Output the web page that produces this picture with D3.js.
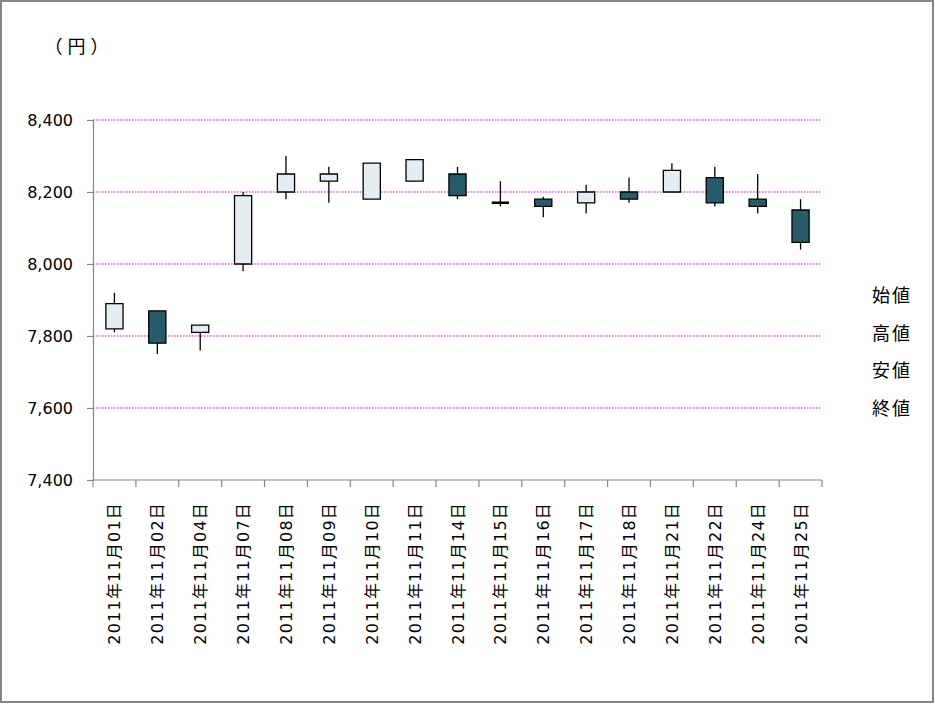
<!DOCTYPE html>
<html>
<head>
<meta charset="utf-8">
<script src="https://cdn.jsdelivr.net/npm/d3@7"></script>
<style>
  html, body { margin: 0; padding: 0; background: #fff; }
  svg { display: block; }
  text { font-family: "DejaVu Sans", "Noto Sans CJK JP", sans-serif; fill: #000; }
</style>
</head>
<body>
<svg id="chart" width="935" height="704"></svg>
<script>
const dates = ["2011年11月01日","2011年11月02日","2011年11月04日","2011年11月07日","2011年11月08日","2011年11月09日","2011年11月10日","2011年11月11日","2011年11月14日","2011年11月15日","2011年11月16日","2011年11月17日","2011年11月18日","2011年11月21日","2011年11月22日","2011年11月24日","2011年11月25日"];
const openValues  = [7820, 7870, 7810, 8000, 8200, 8230, 8180, 8230, 8250, 8170, 8180, 8170, 8200, 8200, 8240, 8180, 8150];
const highValues  = [7920, 7870, 7830, 8200, 8300, 8270, 8280, 8290, 8270, 8230, 8187, 8220, 8240, 8280, 8270, 8250, 8180];
const lowValues   = [7810, 7750, 7760, 7980, 8180, 8170, 8180, 8230, 8180, 8160, 8130, 8140, 8170, 8200, 8160, 8140, 8040];
const closeValues = [7890, 7780, 7830, 8190, 8250, 8250, 8280, 8290, 8190, 8170, 8160, 8200, 8180, 8260, 8170, 8160, 8060];
const yTicks = [7400, 7600, 7800, 8000, 8200, 8400];
const legendLabels = ["始値", "高値", "安値", "終値"];
const unitLabel = "（円）";

const svg = d3.select("#chart");
const plotLeft = 93, plotRight = 822, plotTop = 120, plotBottom = 480;

// outer border
svg.append("rect").attr("x", 1).attr("y", 1).attr("width", 932).attr("height", 701)
  .attr("fill", "#fff").attr("stroke", "#868686").attr("stroke-width", 2);

const x = d3.scaleBand().domain(dates).range([plotLeft, plotRight]).padding(0);
const y = d3.scaleLinear().domain([7400, 8400]).range([plotBottom, plotTop]);

// gridlines
svg.append("g").selectAll("line").data(yTicks.filter(t => t > 7400)).join("line")
  .attr("x1", plotLeft).attr("x2", plotRight)
  .attr("y1", d => y(d)).attr("y2", d => y(d))
  .attr("stroke", "#EE00EE").attr("stroke-width", 1.1).attr("stroke-dasharray", "1.5,1.5");

// y axis
const yAxis = d3.axisLeft(y).tickValues(yTicks).tickSize(6).tickPadding(14)
  .tickFormat(d3.format(","));
const gy = svg.append("g").attr("transform", `translate(${plotLeft},0)`).call(yAxis);
gy.select(".domain").attr("stroke", "#868686").attr("stroke-width", 1.2);
gy.selectAll(".tick line").attr("stroke", "#868686").attr("stroke-width", 1.2);
gy.selectAll(".tick text").attr("font-size", 16).attr("fill", "#000")
  .attr("font-family", "DejaVu Sans, sans-serif");

// x axis line & ticks at band boundaries
const gx = svg.append("g");
gx.append("line").attr("x1", plotLeft).attr("x2", plotRight).attr("y1", plotBottom).attr("y2", plotBottom)
  .attr("stroke", "#868686").attr("stroke-width", 1.2);
const boundaries = dates.map(d => x(d)).concat([x(dates[dates.length - 1]) + x.bandwidth()]);
gx.selectAll("line.tk").data(boundaries).join("line").attr("class", "tk")
  .attr("x1", d => d).attr("x2", d => d).attr("y1", plotBottom).attr("y2", plotBottom + 7)
  .attr("stroke", "#868686").attr("stroke-width", 1.2);
gx.selectAll("text").data(dates).join("text")
  .attr("transform", d => `translate(${x(d) + x.bandwidth() / 2 + 6},${plotBottom + 22}) rotate(-90)`)
  .attr("text-anchor", "end")
  .attr("font-size", 16)
  .attr("letter-spacing", 1.2)
  .text(d => d);

// candles
const cw = x.bandwidth() * 0.4;
const candles = svg.append("g").selectAll("g").data(dates).join("g");
candles.append("line")
  .attr("x1", (d) => x(d) + x.bandwidth() / 2).attr("x2", (d) => x(d) + x.bandwidth() / 2)
  .attr("y1", (d, i) => y(highValues[i])).attr("y2", (d, i) => y(lowValues[i]))
  .attr("stroke", "#000").attr("stroke-width", 1.3);
candles.append("path")
  .attr("d", (d, i) => {
    const x0 = x(d) + (x.bandwidth() - cw) / 2;
    const y1 = y(Math.max(openValues[i], closeValues[i]));
    const y2 = y(Math.min(openValues[i], closeValues[i]));
    return `M${x0},${y1}H${x0 + cw}V${y2}H${x0}Z`;
  })
  .attr("fill", (d, i) => closeValues[i] >= openValues[i] ? "#E3EDF2" : "#275B6A")
  .attr("stroke", "#000")
  .attr("stroke-width", (d, i) => closeValues[i] === openValues[i] ? 2.4 : 1.3);

// unit label
svg.append("text").attr("x", 79).attr("y", 53).attr("text-anchor", "middle")
  .attr("font-family", "Noto Sans CJK JP, sans-serif")
  .attr("font-size", 18).attr("letter-spacing", 5).text(unitLabel);

// legend
svg.append("g").selectAll("text").data(legendLabels).join("text")
  .attr("x", 872).attr("y", (d, i) => 302 + i * 37.5)
  .attr("font-size", 18).attr("letter-spacing", 2)
  .text(d => d);
</script>
</body>
</html>
